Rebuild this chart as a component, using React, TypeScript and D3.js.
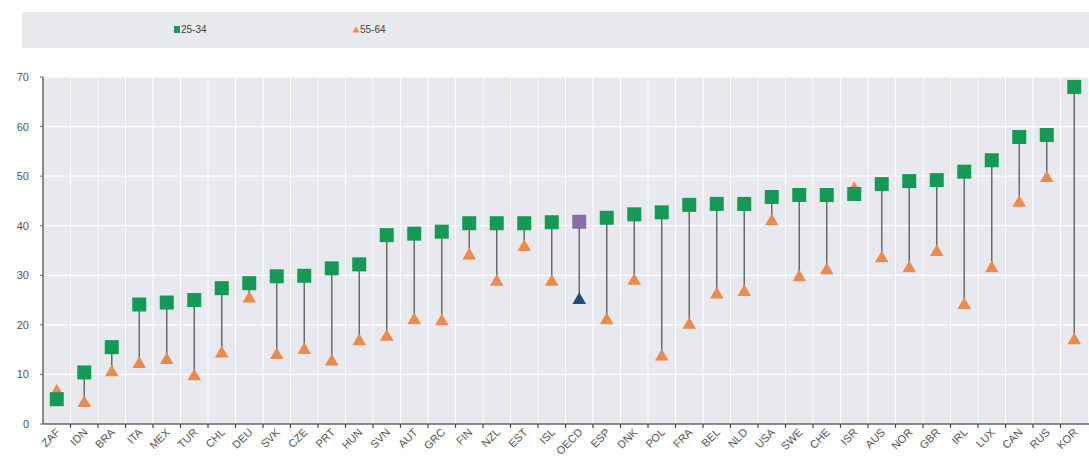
import React from "react";
import * as d3 from "d3";

const categories = ["ZAF","IDN","BRA","ITA","MEX","TUR","CHL","DEU","SVK","CZE","PRT","HUN","SVN","AUT","GRC","FIN","NZL","EST","ISL","OECD","ESP","DNK","POL","FRA","BEL","NLD","USA","SWE","CHE","ISR","AUS","NOR","GBR","IRL","LUX","CAN","RUS","KOR"];
const young = [5.0,10.4,15.5,24.1,24.5,25.0,27.4,28.4,29.8,29.9,31.4,32.2,38.1,38.4,38.8,40.5,40.5,40.5,40.7,40.8,41.6,42.3,42.7,44.2,44.4,44.4,45.8,46.2,46.2,46.4,48.4,49.0,49.2,50.9,53.2,57.9,58.3,68.0];
const old = [6.5,4.2,10.4,12.1,12.9,9.6,14.2,25.3,13.9,14.9,12.6,16.7,17.6,20.9,20.7,34.0,28.7,35.7,28.7,25.0,20.9,28.9,13.6,20.0,26.1,26.6,40.9,29.6,31.0,47.4,33.4,31.4,34.7,24.0,31.4,44.6,49.6,16.9];
const yTicks = [0,10,20,30,40,50,60,70];
const legendLabels = ["25-34","55-64"];

const W = 1089, H = 457;
const margin = { left: 43, right: 1, top: 77, bottom: 33 };
const GREEN = "#149a55";
const ORANGE = "#ea8a4c";
const PURPLE = "#8a6ca6";
const NAVY = "#1c4f7a";
const FONT = "'Liberation Sans Narrow','Arial Narrow','Liberation Sans',sans-serif";

export default function App() {
  const x = d3.scaleBand<string>().domain(categories).range([margin.left, W - margin.right]).padding(0);
  const y = d3.scaleLinear().domain([0, 70]).range([H - margin.bottom, margin.top]);
  const bw = x.bandwidth();
  const tri = d3.symbol().type(d3.symbolTriangle).size(80)() as string;
  const sq = 14;
  const y0 = y(0);
  return (
    <svg width={W} height={H} style={{ position: "absolute", left: 0, top: 0, fontFamily: FONT }}>
      <rect x={0} y={0} width={W} height={H} fill="#fff" />
      {/* legend */}
      <rect x={22} y={12} width={W - 22} height={36} fill="#e9eaed" />
      <rect x={174} y={26} width={6} height={7} fill={GREEN} />
      <text x={181} y={33} fontSize={10} fill="#444">{legendLabels[0]}</text>
      <path d={d3.symbol().type(d3.symbolTriangle).size(22)() as string} transform="translate(356,30.5)" fill={ORANGE} />
      <text x={360} y={33} fontSize={10} fill="#444">{legendLabels[1]}</text>
      {/* plot bg */}
      <rect x={margin.left} y={margin.top} width={W - margin.right - margin.left} height={y0 - margin.top} fill="#e7e9ee" />
      {yTicks.slice(1).map((t) => (
        <line key={"h" + t} x1={margin.left} x2={W - margin.right} y1={y(t)} y2={y(t)} stroke="#fff" strokeWidth={1.2} />
      ))}
      {categories.slice(1).map((c) => (
        <line key={"v" + c} x1={x(c)!} x2={x(c)!} y1={margin.top} y2={y0} stroke="#fff" strokeWidth={1} />
      ))}
      {/* axes */}
      <line x1={margin.left} x2={margin.left} y1={margin.top} y2={y0} stroke="#666" strokeWidth={1.5} />
      <line x1={margin.left} x2={W} y1={y0} y2={y0} stroke="#666" strokeWidth={1.5} />
      {yTicks.map((t) => (
        <g key={"yt" + t}>
          <line x1={margin.left - 3} x2={margin.left} y1={y(t)} y2={y(t)} stroke="#666" />
          <text x={29} y={y(t) + 4} fontSize={11} fill="#555" textAnchor="end">{t}</text>
        </g>
      ))}
      {categories.slice(1).map((c) => (
        <line key={"xt" + c} x1={x(c)!} x2={x(c)!} y1={y0} y2={y0 + 4} stroke="#444" strokeWidth={1.2} />
      ))}
      {categories.map((c) => {
        const cx = x(c)! + bw / 2;
        return (
          <text key={"xl" + c} transform={`translate(${cx + 4},${y0 + 9}) rotate(-45)`} fontSize={11} fill="#555" textAnchor="end">{c}</text>
        );
      })}
      {/* lines */}
      {categories.map((c, i) => {
        const cx = x(c)! + bw / 2;
        return <line key={"l" + c} x1={cx} x2={cx} y1={y(young[i])} y2={y(old[i])} stroke="#6b6b6b" strokeWidth={1.5} />;
      })}
      {/* markers */}
      {categories.map((c, i) => {
        const cx = x(c)! + bw / 2;
        const isO = c === "OECD";
        const triFirst = c === "ZAF" || c === "ISR";
        const s = <rect key="s" x={cx - sq / 2} y={y(young[i]) - sq / 2} width={sq} height={sq} fill={isO ? PURPLE : GREEN} />;
        const t = <path key="t" d={tri} transform={`translate(${cx},${y(old[i])})`} fill={isO ? NAVY : ORANGE} />;
        return <g key={"m" + c}>{triFirst ? [t, s] : [s, t]}</g>;
      })}
    </svg>
  );
}
